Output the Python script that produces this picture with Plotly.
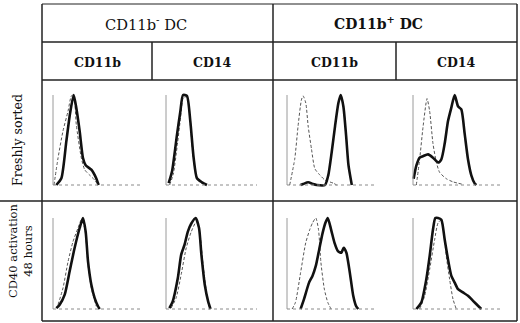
import plotly.graph_objects as go

W, H = 520, 323

# ---------------- data (normalised channel 0-100, relative count 0-100) -------------
col_groups = ["CD11b<sup>-</sup> DC", "CD11b<sup>+</sup> DC"]
markers = ["CD11b", "CD14", "CD11b", "CD14"]
row_labels = ["Freshly sorted", "CD40 activation<br>48 hours"]

# Row 1: Freshly sorted
p1_solid_x = [3.7, 9.3, 14.8, 19, 23, 26, 29.6, 33.3, 36.3, 42.6, 48, 50.7]
p1_solid_y = [0, 7.5, 48.5, 80, 100, 85, 60, 30, 22, 17, 7.5, 0]
p1_dash_x = [1.1, 5.6, 11.1, 16.7, 20.4, 23, 25.9, 31.5, 35.2, 40.7, 46.3, 50]
p1_dash_y = [0, 30, 60, 82, 99, 100, 67, 30, 17, 11, 5.6, 0]

p2_solid_x = [2.9, 6.6, 12.1, 15.8, 18.7, 23, 26.7, 30.4, 34, 39.6, 45]
p2_solid_y = [2, 15, 56, 82, 100, 99, 71, 30, 7.5, 3, 0]
p2_dash_x = [4, 8, 12.5, 16, 19, 23, 26.5, 30, 33.5, 38, 43]
p2_dash_y = [0, 12, 45, 75, 97, 98, 70, 30, 10, 3, 0]

p3_solid_x = [15, 17.9, 23.5, 29, 33, 42.2, 45.9, 49.6, 53.4, 57.1, 59.7, 62.7, 65.7, 68.3, 72]
p3_solid_y = [0, 1, 3, 1, 0, 0, 11, 36, 65.5, 91, 100, 87, 54.5, 22, 0]
p3_dash_x = [3, 8.6, 12.3, 16, 17.9, 20.9, 23.5, 27.2, 31, 36.6, 42.2, 51.5, 55.2]
p3_dash_y = [0, 29, 65.5, 94.5, 99, 91, 65.5, 40, 18, 11, 5.5, 2, 0]

p4_solid_x = [0.7, 3.7, 7.4, 11.1, 16.7, 22.2, 27.8, 31.5, 35.2, 38.9, 42.6, 46.3,
              50, 53.7, 57.4, 61.1, 64.8, 68.5, 70.4]
p4_solid_y = [7, 21.4, 30.4, 32, 34, 30.4, 25, 28.6, 46, 71, 86, 100,
              87.5, 84, 57, 28.6, 10.7, 1.8, 0]
p4_dash_x = [3.7, 7.4, 11.1, 15.6, 18.5, 22.2, 26, 29.6, 37, 44.4, 55.5]
p4_dash_y = [0, 28.6, 64, 96, 82, 46, 25, 14, 7, 3.5, 0.7]

# Row 2: CD40 activation 48 hours
p5_solid_x = [3.7, 7.4, 13, 18.5, 24, 29.6, 33.3, 36.3, 38.9, 42.6, 46.3, 50, 51.9]
p5_solid_y = [1, 4.8, 15.8, 41.4, 67, 89, 100, 85, 52.4, 26.7, 12, 3, 0]
p5_dash_x = [5.6, 11.1, 16.7, 22.2, 27.8, 31.5, 35.2, 38.9, 42.6, 48.1]
p5_dash_y = [4.8, 23, 52, 74, 89, 98, 89, 49, 23, 3]

p6_solid_x = [3.7, 7.4, 13, 16.7, 20.4, 24, 27.8, 32.6, 36.3, 38.9, 42.6, 46.3, 48.9]
p6_solid_y = [1, 8.4, 34, 59.7, 70.7, 85, 94, 100, 89, 59.7, 26.7, 8.4, 0]
p6_dash_x = [5.6, 11.1, 16.7, 22.2, 27.8, 33.3, 37, 40.7, 44.4, 48.1]
p6_dash_y = [1, 12, 38, 67, 85, 96, 85, 49, 19, 0]

p7_solid_x = [15.1, 18.9, 24.5, 28.3, 32, 35.8, 39.6, 42.6, 45.3, 49, 52.8, 56.6,
              60.4, 63, 66, 69.8, 73.6, 76.6, 79.2]
p7_solid_y = [0, 10.9, 29, 36.4, 47.3, 65.5, 83.6, 94.5, 100, 87.3, 72.7, 63.6,
              61.8, 67.3, 61.8, 40, 14.5, 3.6, 0]
p7_dash_x = [5.7, 9.4, 15.1, 20.8, 25.3, 28.3, 32, 35, 37.7, 41.5, 45.3, 49]
p7_dash_y = [0, 7.3, 40, 72.7, 87.3, 94.5, 100, 87.3, 51, 21.8, 7.3, 0]

p8_solid_x = [3.7, 9.3, 14.8, 18.5, 22.2, 24.8, 27.8, 31.5, 35.2, 38.9, 42.6, 46.3,
              50, 55.5, 61.1, 66.7, 72.2, 75.9]
p8_solid_y = [0, 7.3, 32.7, 58, 87.3, 100, 100, 98, 76.4, 54.5, 36.4, 29,
              21.8, 18.2, 14.5, 9, 3.6, 0]
p8_dash_x = [7.4, 13, 18.5, 24, 27.8, 31.5, 34, 37, 40.7, 44.4, 48.1]
p8_dash_y = [0, 14.5, 43.6, 76, 94.5, 98, 87, 58, 32.7, 11, 0]

panels = [
    (p1_solid_x, p1_solid_y, p1_dash_x, p1_dash_y),
    (p2_solid_x, p2_solid_y, p2_dash_x, p2_dash_y),
    (p3_solid_x, p3_solid_y, p3_dash_x, p3_dash_y),
    (p4_solid_x, p4_solid_y, p4_dash_x, p4_dash_y),
    (p5_solid_x, p5_solid_y, p5_dash_x, p5_dash_y),
    (p6_solid_x, p6_solid_y, p6_dash_x, p6_dash_y),
    (p7_solid_x, p7_solid_y, p7_dash_x, p7_dash_y),
    (p8_solid_x, p8_solid_y, p8_dash_x, p8_dash_y),
]

# ---------------- layout geometry (pixels) ----------------
panel_x_px = [(53, 143), (166, 257), (287, 377), (413, 503)]
row_y_px = [(185, 95), (309, 218)]   # (baseline, top)
XR = (-3, 103)
YR = (-3, 106)

def px_x(p):
    return p / W

def px_y(p):
    return 1 - p / H

fig = go.Figure()
layout_axes = {}
shapes = []

for i, (sx, sy, dx, dy) in enumerate(panels):
    r, c = divmod(i, 4)
    x0p, x1p = panel_x_px[c]
    yb, yt = row_y_px[r]
    sxp = (x1p - x0p) / 100.0
    syp = (yb - yt) / 100.0
    dom_x = [px_x(x0p + XR[0] * sxp), px_x(x0p + XR[1] * sxp)]
    dom_y = [px_y(yb - YR[0] * syp), px_y(yb - YR[1] * syp)]
    n = "" if i == 0 else str(i + 1)
    xa, ya = "x" + n, "y" + n
    layout_axes["xaxis" + n] = dict(domain=dom_x, range=list(XR), visible=False,
                                   anchor=ya, fixedrange=True)
    layout_axes["yaxis" + n] = dict(domain=dom_y, range=list(YR), visible=False,
                                   anchor=xa, fixedrange=True)
    # axis lines
    shapes.append(dict(type="line", xref=xa, yref=ya, x0=0, x1=0, y0=0, y1=100,
                       line=dict(color="#9a9a9a", width=1)))
    shapes.append(dict(type="line", xref=xa, yref=ya, x0=0, x1=100, y0=0, y1=0,
                       line=dict(color="#8a8a8a", width=1, dash="dot")))
    fig.add_trace(go.Scatter(x=dx, y=dy, mode="lines", xaxis=xa, yaxis=ya,
                             line=dict(color="#555555", width=1, dash="3px,2px",
                                       shape="spline", smoothing=0.6),
                             hoverinfo="skip", showlegend=False))
    fig.add_trace(go.Scatter(x=sx, y=sy, mode="lines", xaxis=xa, yaxis=ya,
                             line=dict(color="#111111", width=2.6,
                                       shape="spline", smoothing=0.6),
                             hoverinfo="skip", showlegend=False))

# ---------------- table grid ----------------
LW = 1.5
LC = "#222222"
def hline(y, x0, x1, w=LW):
    shapes.append(dict(type="line", xref="paper", yref="paper",
                       x0=px_x(x0), x1=px_x(x1), y0=px_y(y), y1=px_y(y),
                       line=dict(color=LC, width=w)))
def vline(x, y0, y1, w=LW):
    shapes.append(dict(type="line", xref="paper", yref="paper",
                       x0=px_x(x), x1=px_x(x), y0=px_y(y0), y1=px_y(y1),
                       line=dict(color=LC, width=w)))

hline(4, 42, 517, 1.2)
hline(42, 42, 517)
hline(80, 42, 517)
hline(201, 0, 517)
hline(321, 42, 517)
vline(42, 4, 321)
vline(517, 4, 321)
vline(273, 4, 321)
vline(152, 42, 80)
vline(396, 42, 80)

# ---------------- text ----------------
FONT = "DejaVu Serif"
annotations = []
def text(x, y, s, size, angle=0, weight="normal"):
    annotations.append(dict(x=px_x(x), y=px_y(y), xref="paper", yref="paper",
                            text=s, showarrow=False, textangle=angle,
                            font=dict(family=FONT, size=size, color="#111111",
                                      weight=weight),
                            xanchor="center", yanchor="middle"))

text(146, 23, col_groups[0], 14.7)
text(378, 23, col_groups[1], 14, weight="bold")
mid_x = [97, 212, 334, 456]
for mx, m in zip(mid_x, markers):
    text(mx, 62, m, 12.5, weight="bold")
text(17, 140, row_labels[0], 12.5, angle=-90)
text(20, 251, row_labels[1], 11.5, angle=-90)

fig.update_layout(width=W, height=H, margin=dict(l=0, r=0, t=0, b=0),
                  paper_bgcolor="white", plot_bgcolor="rgba(0,0,0,0)",
                  shapes=shapes, annotations=annotations, **layout_axes)

fig.write_html("out.html", config={"displayModeBar": False},
               post_script="document.body.style.margin='0px';")
